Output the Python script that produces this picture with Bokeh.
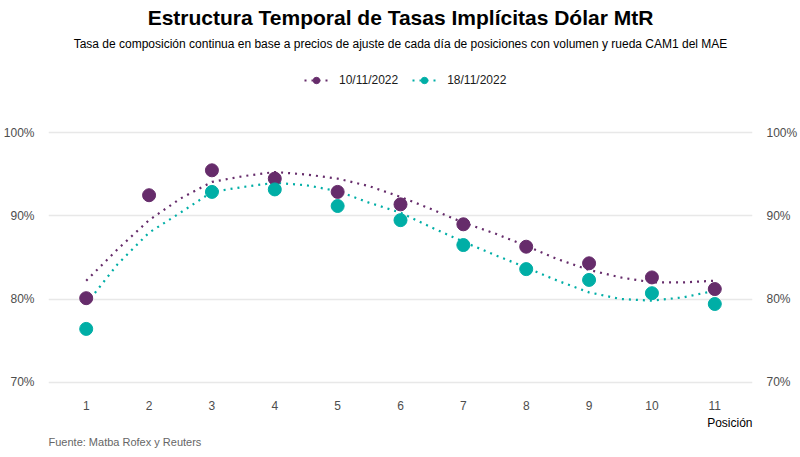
from bokeh.plotting import figure
from bokeh.models import (Range1d, LinearAxis, FixedTicker, PrintfTickFormatter,
                          Legend, LegendItem, Label, Title)
from bokeh.embed import file_html
from bokeh.resources import INLINE

# ---- data ----
positions = [1, 2, 3, 4, 5, 6, 7, 8, 9, 10, 11]
tasa_1011 = [80.1, 92.5, 95.5, 94.5, 92.9, 91.4, 89.0, 86.3, 84.3, 82.6, 81.2]
positions_1811 = [1, 3, 4, 5, 6, 7, 8, 9, 10, 11]
tasa_1811 = [76.4, 92.9, 93.2, 91.2, 89.5, 86.5, 83.6, 82.3, 80.7, 79.4]

smooth_x = [1, 1.5, 2, 2.5, 3, 3.5, 4, 4.5, 5, 5.5, 6, 6.5, 7, 7.5, 8, 8.5, 9, 9.5, 10, 10.5, 11]
smooth_1011 = [82.2, 86.0, 89.5, 92.1, 94.1, 94.8, 95.3, 95.0, 94.5, 93.6, 92.3, 90.8, 89.2,
               87.9, 86.4, 84.8, 83.5, 82.6, 82.0, 82.0, 82.2]
smooth_1811 = [79.4, 84.2, 88.0, 90.4, 92.9, 93.5, 94.0, 93.7, 93.0, 91.6, 90.4, 88.6, 86.9,
               85.3, 83.8, 82.2, 80.8, 80.0, 79.8, 80.2, 81.0]

labels = ["10/11/2022", "18/11/2022"]
y_ticks = [70, 80, 90, 100]

title_text = "Estructura Temporal de Tasas Implícitas Dólar MtR"
subtitle_text = ("Tasa de composición continua en base a precios de ajuste de cada día de "
                 "posiciones con volumen y rueda CAM1 del MAE")
caption_text = "Fuente: Matba Rofex y Reuters"
xlabel_text = "Posición"

PURPLE = "#662c6b"
TEAL = "#00aea6"
FONT = "Liberation Sans"

FW, FH = 704, 394
K = 274 / 33.0          # pixels per percentage point
Y0 = 68.5
Y1 = Y0 + FH / K        # frame extends upward to hold title, subtitle and legend

p = figure(frame_width=FW, frame_height=FH,
           min_border_left=40, min_border_right=40, min_border_top=0, min_border_bottom=0,
           x_range=Range1d(0.4, 11.6), y_range=Range1d(Y0, Y1),
           output_backend="svg", toolbar_location=None, tools="")
p.title = None
p.outline_line_color = None
p.background_fill_color = "white"
p.border_fill_color = "white"

# lines (smoothed)
l1 = p.line(smooth_x, smooth_1011, line_color=PURPLE, line_width=2.2, line_dash="2 5")
l2 = p.line(smooth_x, smooth_1811, line_color=TEAL, line_width=2.2, line_dash="2 5")
s1 = p.scatter(positions, tasa_1011, size=13, color=PURPLE)
s2 = p.scatter(positions_1811, tasa_1811, size=13, color=TEAL)

# axes
for ax in [p.xaxis[0], p.yaxis[0]]:
    ax.axis_line_color = None
    ax.major_tick_line_color = None
    ax.minor_tick_line_color = None
    ax.major_label_text_font = FONT
    ax.major_label_text_font_size = "12px"
    ax.major_label_text_color = "#4d4d4d"

p.xaxis.ticker = FixedTicker(ticks=positions)
p.xaxis.major_label_standoff = 0
p.yaxis.ticker = FixedTicker(ticks=y_ticks)
p.yaxis.formatter = PrintfTickFormatter(format="%d%%")
p.yaxis.major_label_standoff = 8

right = LinearAxis(ticker=FixedTicker(ticks=y_ticks), formatter=PrintfTickFormatter(format="%d%%"))
right.axis_line_color = None
right.major_tick_line_color = None
right.minor_tick_line_color = None
right.major_label_text_font = FONT
right.major_label_text_font_size = "12px"
right.major_label_text_color = "#4d4d4d"
right.major_label_standoff = 8
p.add_layout(right, "right")

p.xgrid.visible = False
p.ygrid.ticker = FixedTicker(ticks=y_ticks)
p.ygrid.grid_line_color = "#e8e8e8"
p.ygrid.grid_line_width = 1.4

# legend
legend = Legend(items=[LegendItem(label=labels[0], renderers=[l1, s1]),
                       LegendItem(label=labels[1], renderers=[l2, s2])],
                orientation="horizontal", location=(256, FH - 88),
                glyph_width=24, glyph_height=16, label_height=16, label_standoff=11,
                spacing=14, padding=0, margin=0,
                border_line_color=None, background_fill_alpha=0,
                label_text_font=FONT, label_text_font_size="12px", label_text_color="#1a1a1a")
p.add_layout(legend, "center")

# title and subtitle inside the (extended) frame
p.add_layout(Label(x=FW / 2, y=FH - 17, x_units="screen", y_units="screen", text=title_text,
                   text_font=FONT, text_font_size="21px", text_font_style="bold",
                   text_align="center", text_baseline="middle", text_color="black"))
p.add_layout(Label(x=FW / 2, y=FH - 43, x_units="screen", y_units="screen", text=subtitle_text,
                   text_font=FONT, text_font_size="12px",
                   text_align="center", text_baseline="middle", text_color="black"))

# x label and caption below the axis
p.add_layout(Title(text=xlabel_text, align="right", text_font=FONT, text_font_size="12px",
                   text_font_style="normal", text_color="black", standoff=2), "below")
p.add_layout(Title(text=caption_text, align="left", text_font=FONT, text_font_size="11px",
                   text_font_style="normal", text_color="#666666", standoff=6), "below")

open("out.html", "w").write(file_html(p, INLINE))
